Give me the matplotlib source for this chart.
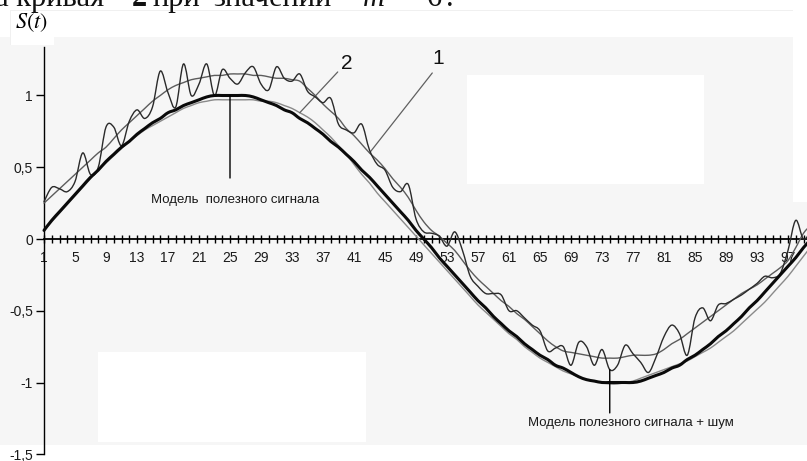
import matplotlib
matplotlib.use("Agg")
import matplotlib.pyplot as plt
from matplotlib.path import Path
from matplotlib.patches import PathPatch, Rectangle
import numpy as np

plt.rcParams['font.family'] = ['Liberation Sans', 'DejaVu Sans']
plt.rcParams['mathtext.fontset'] = 'stix'

# sample index (time)
t = list(range(1, 101))

# model of the useful signal (thick black)
signal = [0.06, 0.13, 0.19, 0.25, 0.31, 0.37, 0.43, 0.48, 0.54, 0.59,
          0.64, 0.68, 0.73, 0.77, 0.81, 0.84, 0.88, 0.90, 0.93, 0.95,
          0.97, 0.99, 1.00, 1.00, 1.00, 1.00, 1.00, 0.99, 0.97, 0.95,
          0.93, 0.90, 0.88, 0.84, 0.81, 0.77, 0.73, 0.68, 0.64, 0.59,
          0.54, 0.48, 0.43, 0.37, 0.31, 0.25, 0.19, 0.13, 0.06, 0.00,
          -0.06, -0.13, -0.19, -0.25, -0.31, -0.37, -0.43, -0.48, -0.54, -0.59,
          -0.64, -0.68, -0.73, -0.77, -0.81, -0.84, -0.88, -0.90, -0.93, -0.96,
          -0.98, -0.99, -1.00, -1.00, -1.00, -1.00, -1.00, -0.99, -0.97, -0.95,
          -0.93, -0.90, -0.88, -0.84, -0.81, -0.77, -0.73, -0.68, -0.64, -0.59,
          -0.54, -0.48, -0.43, -0.37, -0.31, -0.25, -0.19, -0.13, -0.06, 0.00]

# signal + noise (thin, wiggly)
noisy = [0.26, 0.36, 0.35, 0.33, 0.40, 0.60, 0.45, 0.50, 0.78, 0.78,
         0.65, 0.82, 0.90, 0.84, 0.92, 1.17, 1.02, 0.92, 1.22, 1.00,
         1.08, 1.22, 1.00, 1.18, 1.12, 1.08, 1.16, 1.20, 1.08, 1.04,
         1.20, 1.12, 1.10, 1.15, 1.03, 0.99, 0.95, 0.98, 0.80, 0.76,
         0.74, 0.80, 0.62, 0.52, 0.48, 0.36, 0.33, 0.38, 0.14, 0.05,
         0.04, 0.02, -0.05, 0.05, -0.08, -0.26, -0.33, -0.38, -0.38, -0.39,
         -0.50, -0.50, -0.55, -0.60, -0.64, -0.78, -0.76, -0.75, -0.88, -0.72,
         -0.75, -0.88, -0.77, -0.91, -0.88, -0.74, -0.80, -0.86, -0.93, -0.82,
         -0.68, -0.60, -0.66, -0.81, -0.55, -0.48, -0.57, -0.46, -0.45, -0.42,
         -0.39, -0.35, -0.31, -0.26, -0.27, -0.24, -0.08, 0.13, 0.00, 0.06]

# curve 1 (smoothed, follows the noisy mean)
curve1 = [0.25, 0.30, 0.35, 0.40, 0.45, 0.50, 0.55, 0.60, 0.64, 0.70,
          0.76, 0.81, 0.86, 0.91, 0.96, 1.00, 1.04, 1.07, 1.09, 1.11,
          1.12, 1.13, 1.14, 1.14, 1.15, 1.15, 1.15, 1.14, 1.14, 1.13,
          1.12, 1.12, 1.11, 1.10, 1.05, 1.00, 0.94, 0.89, 0.84, 0.77,
          0.72, 0.66, 0.60, 0.55, 0.49, 0.42, 0.36, 0.29, 0.20, 0.12,
          0.06, 0.02, -0.03, -0.08, -0.15, -0.22, -0.28, -0.33, -0.38, -0.43,
          -0.47, -0.52, -0.56, -0.61, -0.66, -0.71, -0.75, -0.78, -0.79, -0.80,
          -0.81, -0.82, -0.83, -0.83, -0.83, -0.82, -0.81, -0.81, -0.81, -0.80,
          -0.77, -0.73, -0.70, -0.66, -0.62, -0.58, -0.54, -0.50, -0.46, -0.42,
          -0.38, -0.35, -0.32, -0.28, -0.24, -0.20, -0.15, -0.06, 0.04, 0.10]

# curve 2 (smoothed, close to the model)
curve2 = [0.06, 0.12, 0.18, 0.24, 0.30, 0.36, 0.42, 0.48, 0.53, 0.58,
          0.63, 0.68, 0.72, 0.76, 0.79, 0.82, 0.85, 0.88, 0.91, 0.93,
          0.95, 0.96, 0.97, 0.97, 0.97, 0.97, 0.97, 0.97, 0.96, 0.96,
          0.95, 0.93, 0.91, 0.88, 0.85, 0.81, 0.76, 0.71, 0.65, 0.59,
          0.52, 0.45, 0.39, 0.32, 0.26, 0.20, 0.14, 0.08, 0.02, -0.04,
          -0.10, -0.16, -0.22, -0.28, -0.34, -0.40, -0.46, -0.51, -0.56, -0.61,
          -0.66, -0.70, -0.75, -0.79, -0.83, -0.86, -0.89, -0.92, -0.94, -0.96,
          -0.98, -0.99, -1.00, -1.01, -1.01, -1.00, -0.99, -0.97, -0.95, -0.93,
          -0.91, -0.89, -0.87, -0.85, -0.82, -0.79, -0.76, -0.72, -0.68, -0.64,
          -0.59, -0.54, -0.49, -0.44, -0.38, -0.32, -0.26, -0.19, -0.12, -0.05]

x_label_ticks = list(range(1, 102, 4))
y_ticks = [-1.5, -1, -0.5, 0, 0.5, 1]
y_tick_labels = ["-1,5", "-1", "-0,5", "0", "0,5", "1"]

W, H = 807, 461


def fx(px):
    return px / W


def fy(py):
    return 1 - py / H


def smooth_path(xs, ys):
    """Excel-like smoothed line: Bezier segments through every point."""
    pts = np.column_stack([xs, ys]).astype(float)
    ext = np.vstack([pts[0], pts, pts[-1]])
    verts = [pts[0]]
    codes = [Path.MOVETO]
    for i in range(len(pts) - 1):
        p0, p1, p2, p3 = ext[i], ext[i + 1], ext[i + 2], ext[i + 3]
        verts += [p1 + (p2 - p0) / 6, p2 - (p3 - p1) / 6, p2]
        codes += [Path.CURVE4] * 3
    return Path(verts, codes)


fig = plt.figure(figsize=(W / 100, H / 100), dpi=100)
ax = fig.add_axes([0, 0, 1, 1])
ax.set_facecolor("white")

# ticks first: set_xticks widens the view limits to fit the ticks
ax.set_xticks(x_label_ticks)
ax.set_xticklabels([str(v) for v in x_label_ticks])
ax.set_xticks(t + [101], minor=True)
ax.set_yticks(y_ticks)
ax.set_yticklabels(y_tick_labels)

# pixel mapping: t=1 at x=44 px, 7.75 px per step; y=0 at 239 px, 143.5 px per unit
ax.set_xlim(1 - 44 / 7.75, 1 + (W - 44) / 7.75)
ax.set_ylim(-(H - 239) / 143.5, 239 / 143.5)

# scanned page background
bg = "#f6f6f6"
for (x0, y0, x1, y1, c) in [(0, 37, 793, 445, bg), (793, 202, 807, 445, bg),
                            (10, 10, 793, 11, "#f0f0f0"), (10, 10, 11, 45, "#f0f0f0"),
                            (11, 11, 54, 45, "white"),
                            (467, 75, 704, 184, "white"), (98, 352, 366, 442, "white")]:
    ax.add_patch(Rectangle((fx(x0), fy(y1)), fx(x1) - fx(x0), fy(y0) - fy(y1),
                           transform=ax.transAxes, facecolor=c, edgecolor="none",
                           zorder=0))

# curves
for ys, col, lw, z in [(curve2, "#8a8a8a", 1.0, 3), (curve1, "#5c5c5c", 1.0, 3.1),
                       (noisy, "#2a2a2a", 1.0, 3.2), (signal, "#0a0a0a", 2.2, 3.3)]:
    ax.add_patch(PathPatch(smooth_path(t, ys), fill=False, edgecolor=col, lw=lw,
                           capstyle="round", joinstyle="round", zorder=z))

# axes
for s in ["top", "right"]:
    ax.spines[s].set_visible(False)
ax.spines["left"].set_position(("data", 1))
ax.spines["left"].set_bounds(-1.5, 1.34)
ax.spines["bottom"].set_position(("data", 0))
ax.spines["bottom"].set_bounds(1, 102)
ax.spines["left"].set_linewidth(1.0)
ax.spines["bottom"].set_linewidth(1.3)

ax.tick_params(axis="x", which="both", direction="inout", length=6, width=1,
               pad=6, labelsize=10, labelcolor="#1a1a1a")
ax.tick_params(axis="y", direction="out", length=6, width=1, pad=2,
               labelsize=10, labelcolor="#1a1a1a")
# last label, cut by the right edge of the scan
ax.text(101, -0.14, "101", ha="center", va="center", fontsize=10,
        color="#1a1a1a", clip_on=False)

# pointers and captions
ax.annotate("", xy=(t[24], signal[24]), xytext=(t[24], 0.425),
            arrowprops=dict(arrowstyle="-", color="black", lw=1, shrinkA=0, shrinkB=0),
            zorder=4)
ax.text(25.7, 0.272, "Модель  полезного сигнала", ha="center", va="center",
        fontsize=9.5, color="#1a1a1a")
ax.annotate("", xy=(t[73], noisy[73]), xytext=(t[73], -1.212),
            arrowprops=dict(arrowstyle="-", color="black", lw=1, shrinkA=0, shrinkB=0),
            zorder=4)
ax.text(76.7, -1.282, "Модель полезного сигнала + шум", ha="center", va="center",
        fontsize=9.5, color="#1a1a1a")

ax.annotate("", xy=(t[33], curve2[33]), xytext=(38.9, 1.164),
            arrowprops=dict(arrowstyle="-", color="#606060", lw=0.9, shrinkA=0, shrinkB=0))
ax.text(40.1, 1.226, "2", ha="center", va="center", fontsize=15, color="#111111")
ax.annotate("", xy=(t[42], curve1[42]), xytext=(51.1, 1.157),
            arrowprops=dict(arrowstyle="-", color="#606060", lw=0.9, shrinkA=0, shrinkB=0))
ax.text(51.8, 1.261, "1", ha="center", va="center", fontsize=15, color="#111111")

# axis name
fig.text(fx(31), fy(23), "$S(t)$", ha="center", va="center", fontsize=16)

# line of the page text above the chart (cut off by the scan)
serif = ["Liberation Serif", "DejaVu Serif"]
for px, s, kw in [(-5, "а кривая", {}), (110, "–", {}), (132, "2", {"weight": "bold"}),
                  (152, "при", {}), (213, "значении", {}), (363, "m", {"style": "italic"}),
                  (392, "=", {}), (427, "6", {}), (446, ".", {})]:
    fig.text(fx(px), fy(6), s, ha="left", va="baseline", fontsize=22,
             family=serif, color="#111111", **kw)

fig.savefig("out.png", dpi=100)
